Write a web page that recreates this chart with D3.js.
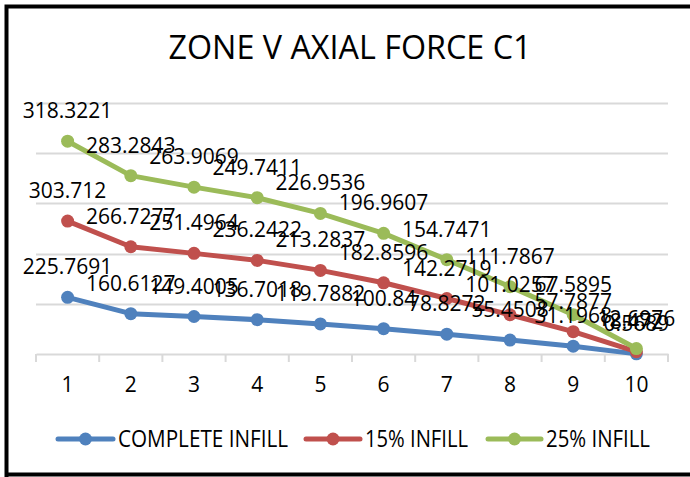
<!DOCTYPE html>
<html>
<head>
<meta charset="utf-8">
<script src="https://cdn.jsdelivr.net/npm/d3@7"></script>
<style>
  html, body { margin: 0; padding: 0; background: #fff; }
  svg { display: block; }
  text { font-family: "Open Sans", "Noto Sans", sans-serif; fill: #000; }
</style>
</head>
<body>
<svg id="chart" width="690" height="477"></svg>
<script>
const title = "ZONE V AXIAL FORCE C1";
const categories = ["1","2","3","4","5","6","7","8","9","10"];
const seriesNames = ["COMPLETE INFILL", "15% INFILL", "25% INFILL"];
const complete = [225.7691, 160.6127, 149.4005, 136.7018, 119.7882, 100.84, 78.8272, 55.4508, 31.1968, 0.5689];
const infill15 = [303.712, 266.7277, 251.4964, 236.2422, 213.2837, 182.8596, 142.2719, 101.0257, 57.7877, 8.4720];
const infill25 = [318.3221, 283.2843, 263.9069, 249.7411, 226.9536, 196.9607, 154.7471, 111.7867, 67.5895, 12.6976];
const colors = ["#4f81bd", "#c0504d", "#9bbb59"];
const yMax = 1000;

const svg = d3.select("#chart");
const x = d3.scaleBand().domain(categories).range([36, 668]);
const y = d3.scaleLinear().domain([0, yMax]).range([354, 103]);

// frame
svg.append("path")
  .attr("d", "M6.5,477 L6.5,6.5 L690,6.5 M6.5,474.5 L690,474.5")
  .attr("fill", "none").attr("stroke", "#000").attr("stroke-width", 4);

// title
svg.append("text").attr("x", 350).attr("y", 59)
  .attr("text-anchor", "middle").attr("font-size", 33)
  .attr("textLength", 363).attr("lengthAdjust", "spacingAndGlyphs")
  .text(title);

// gridlines
svg.append("g").selectAll("line")
  .data(y.ticks(5).filter(d => d > 0))
  .join("line")
  .attr("x1", 36).attr("x2", 668)
  .attr("y1", d => Math.round(y(d)) + 0.5).attr("y2", d => Math.round(y(d)) + 0.5)
  .attr("stroke", "#d9d9d9").attr("stroke-width", 2);

// x axis
const xAxis = d3.axisBottom(x).tickSize(0).tickPadding(0).tickFormat(d => d);
const gx = svg.append("g").attr("transform", "translate(0,354)").call(xAxis);
gx.select(".domain").attr("stroke", "#d9d9d9").attr("stroke-width", 2);
gx.selectAll("text").attr("font-size", 21).attr("dy", null).attr("y", 38)
  .style("font-family", "'Open Sans', sans-serif").attr("fill", "#000");
const bounds = categories.map(c => x(c)).concat([x.range()[1]]);
svg.append("g").selectAll("line").data(bounds).join("line")
  .attr("x1", d => d).attr("x2", d => d)
  .attr("y1", 354).attr("y2", 362)
  .attr("stroke", "#d9d9d9").attr("stroke-width", 2);

// stacked data
const table = categories.map((c, i) => ({cat: c, s0: complete[i], s1: infill15[i], s2: infill25[i]}));
const stack = d3.stack().keys(["s0", "s1", "s2"]);
const stacked = stack(table);
const cx = c => x(c) + x.bandwidth() / 2;

const line = d3.line().x(d => cx(d.data.cat)).y(d => y(d[1]));
stacked.forEach((s, k) => {
  const g = svg.append("g");
  g.append("path").datum(s).attr("d", line)
    .attr("fill", "none").attr("stroke", colors[k]).attr("stroke-width", 5)
    .attr("stroke-linejoin", "round").attr("stroke-linecap", "round");
  g.selectAll("circle").data(s).join("circle")
    .attr("cx", d => cx(d.data.cat)).attr("cy", d => y(d[1])).attr("r", 6.5)
    .attr("fill", colors[k]);
});

// labels
stacked.forEach((s, k) => {
  svg.append("g").selectAll("text").data(s).join("text")
    .attr("x", d => cx(d.data.cat)).attr("y", d => y(d[1]) - 23)
    .attr("text-anchor", "middle").attr("font-size", 21)
    .text(d => d.data[s.key]);
});

// legend
const legendItems = [
  {x1: 58, x2: 113, tx: 118, tw: 170},
  {x1: 306, x2: 360, tx: 365, tw: 103},
  {x1: 488, x2: 541, tx: 546, tw: 104}
];
legendItems.forEach((L, k) => {
  const g = svg.append("g");
  g.append("line").attr("x1", L.x1).attr("x2", L.x2).attr("y1", 439).attr("y2", 439)
    .attr("stroke", colors[k]).attr("stroke-width", 5).attr("stroke-linecap", "round");
  g.append("circle").attr("cx", (L.x1 + L.x2) / 2).attr("cy", 439).attr("r", 6.5).attr("fill", colors[k]);
  g.append("text").attr("x", L.tx).attr("y", 447).attr("font-size", 23)
    .attr("textLength", L.tw).attr("lengthAdjust", "spacingAndGlyphs")
    .text(seriesNames[k]);
});
</script>
</body>
</html>
